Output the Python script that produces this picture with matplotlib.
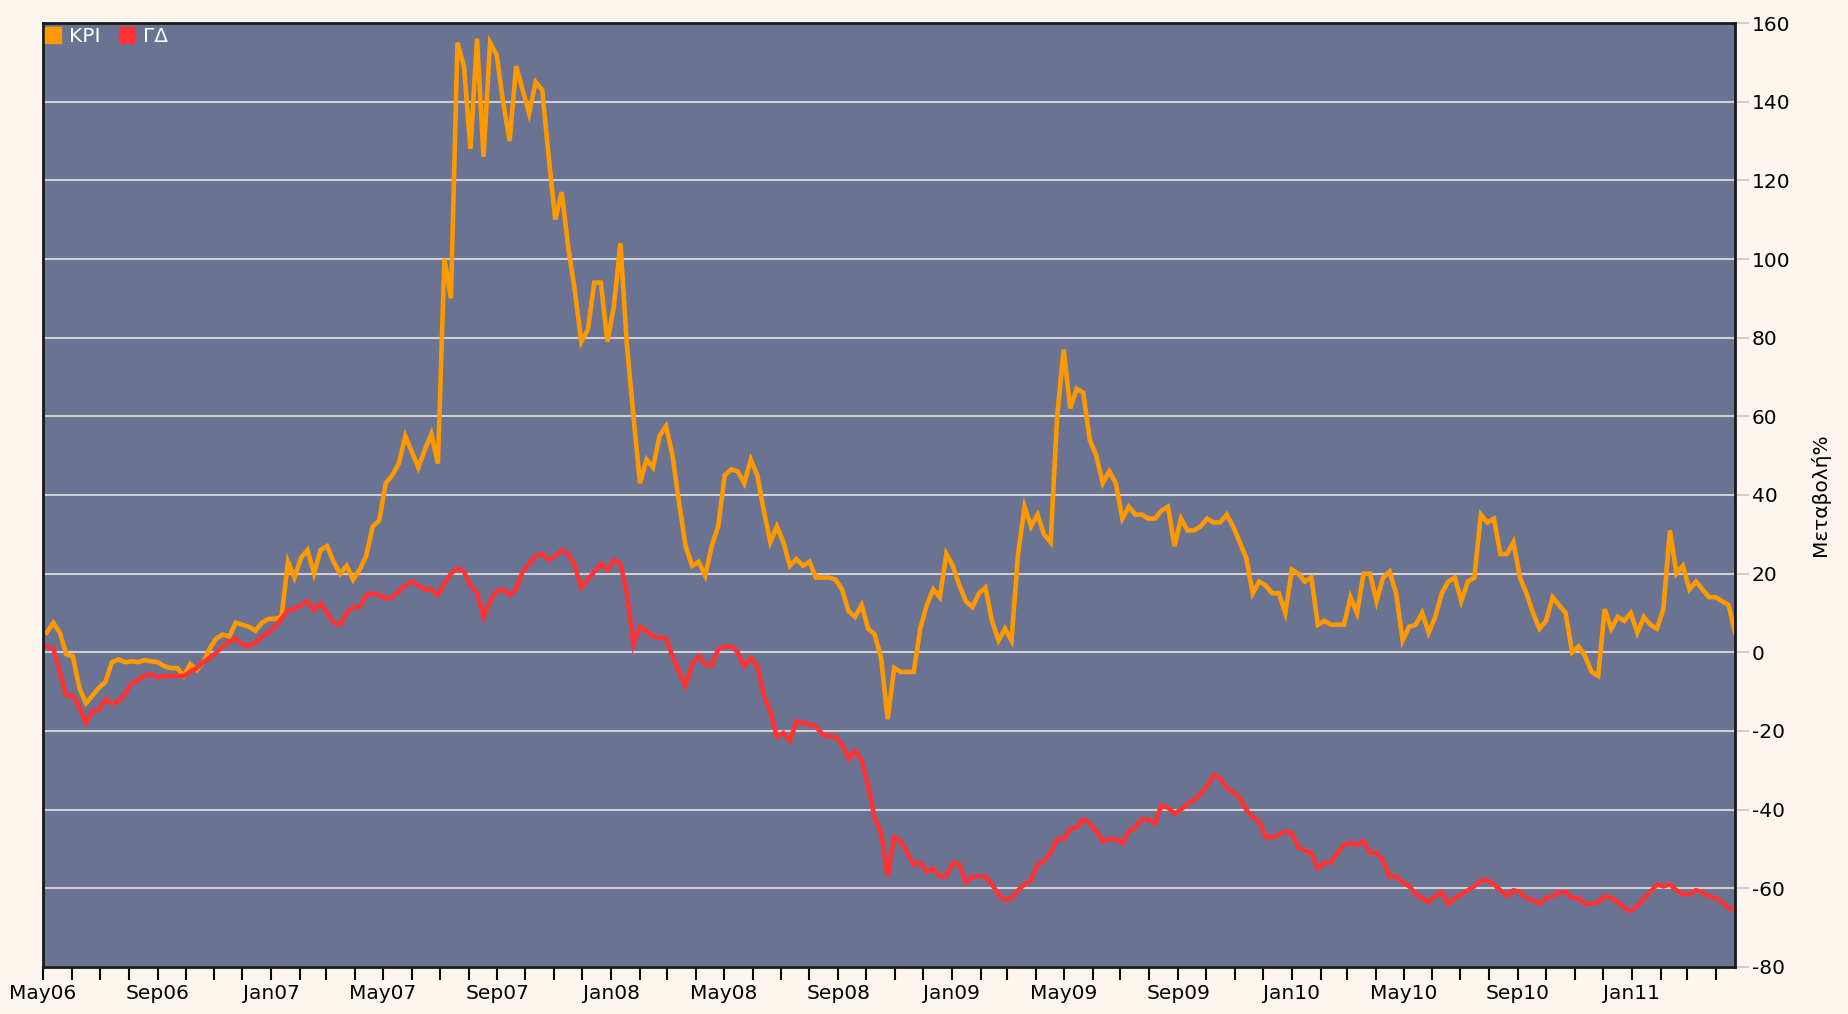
import pandas as pd
import matplotlib.pyplot as plt
import matplotlib.dates as mdates
from matplotlib.lines import Line2D

# weekly observations, % change since May 2006
start_date = "2006-05-05"

kpi = [
    5, 7.5, 5, -0.5, -1, -9, -13, -11, -9, -7.5,
    -2.5, -1.8, -2.5, -2.3, -2.5, -2, -2.3, -2.5, -3.5, -4,
    -4, -6, -3, -4.5, -2.5, 1, 3.5, 4.5, 4, 7.5,
    7, 6.5, 5.5, 7.5, 8.5, 8.5, 9, 23, 19, 24,
    26, 20, 26, 27, 23, 20, 22, 18.5, 21, 24.5,
    32, 33.5, 43, 45, 48, 55, 51, 47, 51.5, 55.5,
    48, 100, 90, 155, 149, 128, 156, 126, 155, 152,
    140, 130, 149, 143, 137, 145, 143, 126, 110, 117,
    103, 92, 79, 82, 94, 94, 79, 88, 104, 78,
    60, 43, 49, 47, 55, 57.5, 50, 38, 27, 22,
    23, 19.5, 27, 32, 45, 46.5, 46, 43, 49, 45,
    36, 28, 32, 28, 22, 23.7, 22, 23, 19, 19,
    19, 18.5, 16, 10.5, 9, 12, 6, 4.6, -1.5, -17,
    -4, -5, -5, -5, 6, 12, 16, 14, 25, 22,
    17, 13, 11.5, 15, 16.5, 8, 3, 6, 3, 25,
    37, 32, 35, 30, 28, 60, 77, 62, 67, 66,
    54, 50, 43, 46, 43, 34, 37, 35, 35, 34,
    34, 36, 37, 27, 34, 31, 31, 32, 34, 33,
    33, 35, 32, 28, 24, 15, 18, 17, 15, 15,
    10, 21, 20, 18, 19, 7, 8, 7, 7, 7,
    14, 10, 20, 20, 13, 19, 20.5, 15, 3, 6.5,
    7, 10, 5, 9, 15, 18, 19, 13, 18, 19,
    35, 33, 34, 25, 25, 28, 19, 15, 10, 6,
    8, 14, 12, 10, 0, 1.5, -1, -5, -6, 11,
    6, 9, 8, 10, 5, 9, 7, 6, 11, 31,
    20, 22, 16, 18, 16, 14, 14, 13, 12, 5,
]

gd = [
    1.5, 1, -5, -11, -11, -14, -18, -15, -14.5, -12,
    -13, -12.5, -10.5, -8, -7, -6, -5.5, -6.5, -6, -6,
    -6, -6, -5, -4, -2.5, -1.5, 0, 1.5, 2.7, 3.5,
    2, 1.5, 2.5, 4, 5, 6.5, 8.5, 10.7, 11, 12,
    13, 10.7, 12.5, 10, 7.5, 7, 10, 11.5, 11.5, 14.5,
    15, 14.5, 13.7, 14, 15.5, 17, 18, 17, 16, 16,
    14.5, 17.5, 20, 21.4, 20.5, 17, 15, 9, 13, 15.5,
    16, 14.5, 16, 20.5, 22.5, 24.5, 25, 23.5, 24.5, 26,
    25, 22, 16.5, 18.5, 20.5, 22.5, 21, 23.5, 22.5, 15,
    2, 6.5, 5.5, 4, 3.8, 3.5, -1, -5, -8.5, -3,
    -1, -3, -3.5, 0.8, 1.5, 1.5, 0, -3.5, -1.5, -3.5,
    -11, -15, -21.5, -20.5, -22.5, -17.5, -18, -18.3, -19, -20.8,
    -21.4, -21.5, -23.5, -27, -25, -27.5, -34, -42, -46, -57,
    -47, -48, -51, -54, -53.5, -55.7, -55, -57, -57, -53.5,
    -54, -58.5, -57, -57, -57, -59, -61.5, -63, -62.5, -60.5,
    -59, -58, -54, -53, -51, -47.5, -47.5, -45, -44.5, -42.5,
    -43.5, -45.5, -48, -47.5, -47.5, -48.5, -45.5, -44.5, -42.5, -42.5,
    -43.5, -39, -39.5, -41, -40, -38.5, -37.5, -36, -34, -31.3,
    -32, -34.5, -35.5, -37, -40, -42, -43, -47, -47, -46.5,
    -45.5, -46, -49.6, -50.5, -51, -55, -53.5, -53.5, -51, -49,
    -48.5, -49, -48, -51, -51, -53, -57, -57, -58.5, -59.5,
    -61.5, -62.5, -63.5, -62, -61, -64, -62.5, -61.5, -60.5, -59.5,
    -58, -58, -59, -60.5, -62, -60.5, -61, -62.5, -63, -64,
    -62.5, -62, -61, -61, -62.5, -62.5, -64, -64, -63.5, -62,
    -62.5, -63.5, -65, -65.8, -64.5, -62.5, -61, -59, -59.5, -59,
    -60.5, -61.5, -61.5, -60.5, -61, -62, -62.5, -63.5, -65, -65.5,
]

series_names = ["KPI", "ΓΔ"]
series_colors = ["#FF9900", "#FF3333"]
y_label = "Μεταβολή%"

dates = pd.date_range(start_date, periods=len(kpi), freq="7D")

plt.rcParams['font.family'] = ['DejaVu Sans']
plt.rcParams['axes.unicode_minus'] = False

fig = plt.figure(figsize=(18.48, 10.14), dpi=100, facecolor="#FDF6EF")
ax = fig.add_axes([0.0233, 0.0464, 0.9156, 0.9309])
ax.set_facecolor("#6B7392")

ax.plot(dates, kpi, color=series_colors[0], linewidth=3.3, solid_joinstyle="miter")
ax.plot(dates, gd, color=series_colors[1], linewidth=3.3, solid_joinstyle="miter")

ax.set_xlim(pd.Timestamp("2006-05-01"), pd.Timestamp("2011-04-22"))
ax.set_ylim(-80, 160)
ax.set_yticks(range(-80, 161, 20))

ax.yaxis.tick_right()
ax.yaxis.set_label_position("right")
ax.grid(axis="y", color="#CFCFCF", linewidth=1.5)
ax.set_axisbelow(True)
ax.tick_params(axis="y", length=10, width=1.5, color="#CFCFCF", labelsize=14.5, pad=2)

ax.xaxis.set_major_locator(mdates.MonthLocator(bymonth=[1, 5, 9]))
ax.xaxis.set_major_formatter(mdates.DateFormatter("%b%y"))
ax.xaxis.set_minor_locator(mdates.MonthLocator())
ax.tick_params(axis="x", which="both", length=9, width=1.5, color="black", labelsize=14.5, pad=3)

for side in ax.spines:
    ax.spines[side].set_color("#1A1A1A")
    ax.spines[side].set_linewidth(2)

ax.set_ylabel(y_label, fontsize=14.5, labelpad=14)

handles = [Line2D([], [], linestyle="none", marker="s", markersize=11,
                  markerfacecolor=c, markeredgecolor=c) for c in series_colors]
leg = ax.legend(handles, series_names, loc="upper left", ncol=2, frameon=False,
                fontsize=14.5, labelcolor="white", handlelength=0.6, handletextpad=0.5,
                columnspacing=1.0, borderaxespad=0.1, borderpad=0.1)

fig.savefig("out.png", dpi=100, facecolor=fig.get_facecolor())
